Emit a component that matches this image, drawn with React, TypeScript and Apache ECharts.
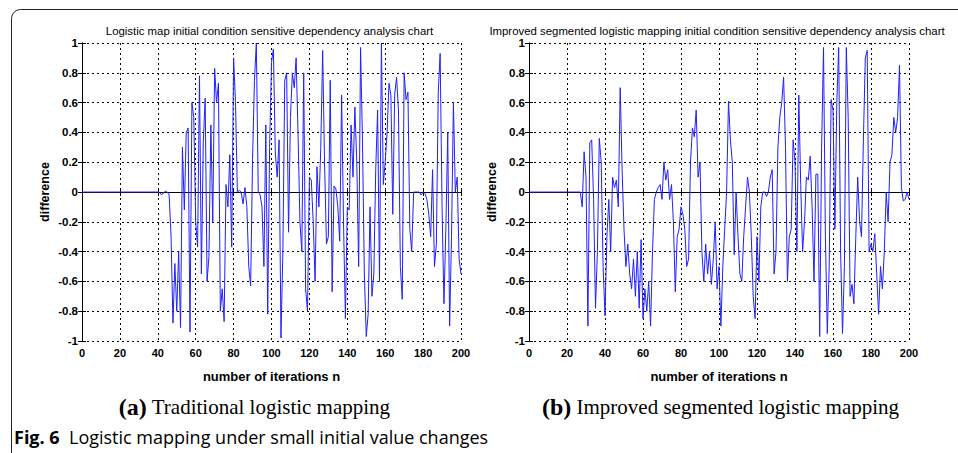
import React, { useEffect, useRef } from "react";
import * as echarts from "echarts";

// iteration index 0..200
const xTicks = [0, 20, 40, 60, 80, 100, 120, 140, 160, 180, 200];
const yTicks = [-1, -0.8, -0.6, -0.4, -0.2, 0, 0.2, 0.4, 0.6, 0.8, 1];

// (a) traditional logistic map: difference per iteration
const traditional = [
  0, 0, 0, 0, 0, 0, 0, 0, 0, 0,
  0, 0, 0, 0, 0, 0, 0, 0, 0, 0,
  0, 0, 0, 0, 0, 0, 0, 0, 0, 0,
  0, 0, 0, 0, 0, 0, 0, 0, 0, 0,
  0, -0.005, -0.02, -0.005, 0.005, 0, -0.02, -0.3, -0.88, -0.48,
  -0.8, -0.4, -0.91, 0.3, -0.12, 0.4, 0.43, -0.94, 0.6, 0.5,
  -0.2, -0.37, 0.78, -0.55, 0.33, 0.63, -0.6, -0.43, 0.45, -0.2,
  0.83, 0.6, 0.73, -0.8, -0.65, -0.87, 0.05, -0.1, 0.25, -0.37,
  0.9, 0.6, 0.0, 0.01, 0.0, -0.08, 0.03, -0.1, -0.5, -0.63,
  0.22, 0.75, 1.0, 0.0, -0.02, -0.1, -0.5, 0.45, -0.82, 0.3,
  0.87, 0.96, 0.27, 0.1, 0.35, -0.98, -0.4, 0.75, 0.8, -0.27,
  0.5, 0.8, 0.7, 0.9, 0.4, -0.2, -0.4, 0.8, -0.65, -0.8,
  0.1, 0.08, -0.2, -0.6, 0.17, -0.1, 0.3, 0.95, 0.2, -0.35,
  -0.3, 0.75, -0.67, 0.04, 0.02, -0.1, -0.33, 0.65, -0.2, -0.85,
  -0.1, -0.12, 0.45, 0.1, 0.57, 0.2, -0.5, 0.97, 0.35, -0.55,
  -0.97, -0.82, -0.1, -0.7, -0.55, 0.15, 0.55, -0.6, 1.0, 0.05,
  0.2, 0.4, 0.73, 0.65, -0.15, 0.65, 0.77, 0.55, -0.5, -0.72,
  0.8, 0.62, 0.67, -0.25, -0.4, 0.0, 0.0, 0.0, 0.0, -0.02,
  0.0, -0.01, -0.05, -0.15, -0.3, 0.15, -0.5, -0.35, 0.67, 0.93,
  -0.1, -0.75, -0.25, 0.4, -0.9, -0.3, 0.6, 0.0, 0.1, -0.45,
  -0.55,
];

// (b) improved segmented logistic map: difference per iteration
const improved = [
  0, 0, 0, 0, 0, 0, 0, 0, 0, 0,
  0, 0, 0, 0, 0, 0, 0, 0, 0, 0,
  0, 0, 0, 0, 0, 0, 0, 0, -0.1, 0.27,
  0.1, -0.9, 0.33, 0.35, -0.05, -0.78, -0.4, 0.36, 0.2, -0.5,
  -0.83, -0.3, -0.05, -0.4, 0.1, 0.03, 0.08, -0.1, 0.7, 0.15,
  -0.25, -0.5, -0.35, -0.55, -0.65, -0.45, -0.7, -0.4, -0.78, -0.32,
  -0.85, -0.65, -0.8, -0.6, -0.9, -0.4, -0.05, 0.0, 0.03, 0.05,
  -0.05, 0.2, 0.08, 0.15, -0.05, 0.05, -0.2, -0.67, -0.3, -0.25,
  -0.1, -0.15, -0.25, -0.5, -0.45, 0.2, 0.43, 0.37, 0.55, 0.1,
  0.2, -0.4, -0.6, -0.35, -0.55, -0.4, -0.62, -0.45, -0.2, -0.65,
  -0.5, -0.9, -0.5, -0.25, 0.0, 0.61, 0.35, 0.2, -0.42, 0.0,
  -0.3, -0.55, -0.6, -0.3, -0.1, 0.1, 0.0, -0.3, -0.7, -0.85,
  -0.3, -0.6, -0.1, 0.0, 0.0, -0.03, 0.0, 0.1, 0.15, -0.55,
  -0.4, 0.3, 0.5, 0.6, 0.77, 0.3, -0.6, -0.3, -0.25, 0.35,
  0.2, -0.4, 0.65, 0.05, -0.4, -0.2, 0.1, 0.08, 0.24, -0.1,
  -0.6, 0.12, 0.12, -0.97, 0.3, 0.97, -0.3, -0.95, -0.5, 0.62,
  0.55, -0.25, 0.6, 0.97, -0.4, -0.95, -0.5, 0.97, 0.5, -0.7,
  -0.62, -0.75, -0.3, 0.1, -0.2, -0.3, 0.35, 0.9, 0.95, -0.4,
  -0.35, -0.4, -0.28, -0.55, -0.82, -0.5, -0.65, -0.4, 0.0, -0.2,
  0.2, 0.25, 0.5, 0.4, 0.5, 0.85, 0.03, -0.06, -0.05, 0.0,
  -0.05,
];

const titles = [
  "Logistic map initial condition sensitive dependency analysis chart",
  "Improved segmented logistic mapping initial condition sensitive dependency analysis chart",
];
const xName = "number of iterations n";
const yName = "difference";
const captionLetters = ["(a)", "(b)"];
const captions = ["Traditional logistic mapping", "Improved segmented logistic mapping"];
const figLabel = "Fig. 6";
const figText = "Logistic mapping under small initial value changes";

const W = 958;
const H = 453;
const AX_FONT = "'Liberation Sans', Arial, sans-serif";
const SERIF = "'Liberation Serif', 'Times New Roman', serif";

export default function App() {
  const ref = useRef<HTMLDivElement>(null);

  useEffect(() => {
    if (!ref.current) return;
    const chart = echarts.init(ref.current, null, { renderer: "svg" });

    const grids = [
      { left: 82, right: W - 461, top: 43, bottom: H - 341 },
      { left: 529, right: W - 909, top: 43, bottom: H - 341 },
    ];

    const xAxes: any[] = [];
    const yAxes: any[] = [];
    grids.forEach((_, gi) => {
      xAxes.push({
        type: "value",
        gridIndex: gi,
        min: xTicks[0],
        max: xTicks[xTicks.length - 1],
        interval: 20,
        position: "bottom",
        name: xName,
        nameLocation: "middle",
        nameGap: 29,
        nameTextStyle: { fontFamily: AX_FONT, fontSize: 13, fontWeight: "bold", color: "#000" },
        axisLine: { show: true, lineStyle: { color: "#000", width: 1 } },
        axisTick: { show: true, inside: true, length: 4, lineStyle: { color: "#000" } },
        axisLabel: { fontFamily: AX_FONT, fontSize: 11, fontWeight: "bold", color: "#000", margin: 6 },
        splitLine: { show: true, lineStyle: { color: "#000", type: [2, 3], width: 1 } },
      });
      xAxes.push({
        type: "value",
        gridIndex: gi,
        min: xTicks[0],
        max: xTicks[xTicks.length - 1],
        interval: 20,
        position: "top",
        axisLine: { show: true, lineStyle: { color: "#000", width: 1 } },
        axisTick: { show: true, inside: true, length: 4, lineStyle: { color: "#000" } },
        axisLabel: { show: false },
        splitLine: { show: false },
      });
      yAxes.push({
        type: "value",
        gridIndex: gi,
        min: yTicks[0],
        max: yTicks[yTicks.length - 1],
        interval: 0.2,
        position: "left",
        name: yName,
        nameLocation: "middle",
        nameGap: 31,
        nameTextStyle: { fontFamily: AX_FONT, fontSize: 12.5, fontWeight: "bold", color: "#000" },
        axisLine: { show: true, lineStyle: { color: "#000", width: 1 } },
        axisTick: { show: true, inside: true, length: 4, lineStyle: { color: "#000" } },
        axisLabel: {
          fontFamily: AX_FONT,
          fontSize: 11.5,
          fontWeight: "bold",
          color: "#000",
          margin: 4,
          formatter: (v: number) => String(Math.round(v * 10) / 10),
        },
        splitLine: { show: true, lineStyle: { color: "#000", type: [2, 3], width: 1 } },
      });
      yAxes.push({
        type: "value",
        gridIndex: gi,
        min: yTicks[0],
        max: yTicks[yTicks.length - 1],
        interval: 0.2,
        position: "right",
        axisLine: { show: true, lineStyle: { color: "#000", width: 1 } },
        axisTick: { show: true, inside: true, length: 4, lineStyle: { color: "#000" } },
        axisLabel: { show: false },
        splitLine: { show: false },
      });
    });

    const toPairs = (arr: number[]) => arr.map((v, i) => [i, v]);

    const plotCenters = [(82 + 461) / 2 - 2, (529 + 909) / 2 - 2];

    const graphic: any[] = [
      {
        type: "rect",
        shape: { x: 11.5, y: 9.5, width: 1100, height: 600, r: 9 },
        style: { fill: "none", stroke: "#222", lineWidth: 1 },
        silent: true,
      },
      ...titles.map((t, i) => ({
        type: "text",
        x: plotCenters[i],
        y: 30.5,
        style: {
          text: t,
          fontFamily: AX_FONT,
          fontSize: 11.4,
          fill: "#000",
          align: "center",
          verticalAlign: "middle",
        },
      })),
      ...captions.map((c, i) => ({
        type: "text",
        x: i === 0 ? 254.5 : 720.5,
        y: 407,
        style: {
          text: `{b|${captionLetters[i]}} ${c}`,
          rich: {
            b: {
              fontFamily: SERIF,
              fontSize: 24,
              fontWeight: "bold",
              fill: "#000",
            },
          },
          fontFamily: SERIF,
          fontSize: 21,
          fill: "#000",
          align: "center",
          verticalAlign: "middle",
        },
      })),
      {
        type: "text",
        x: 14,
        y: 437,
        style: {
          text: `{b|${figLabel}}  ${figText}`,
          rich: {
            b: { fontFamily: "'Open Sans', sans-serif", fontSize: 18, fontWeight: "bold", fill: "#000" },
          },
          fontFamily: "'Open Sans', sans-serif",
          fontSize: 18,
          fill: "#000",
          align: "left",
          verticalAlign: "middle",
        },
      },
    ];

    chart.setOption({
      animation: false,
      backgroundColor: "#fff",
      grid: grids.map((g) => ({ ...g, show: false, containLabel: false })),
      xAxis: xAxes,
      yAxis: yAxes,
      series: [traditional, improved].map((arr, i) => ({
        type: "line",
        xAxisIndex: i * 2,
        yAxisIndex: i * 2,
        data: toPairs(arr),
        showSymbol: false,
        symbol: "none",
        lineStyle: { color: "#2020ff", width: 1 },
        z: 3,
      })),
      graphic,
    });

    return () => chart.dispose();
  }, []);

  return (
    <div
      ref={ref}
      style={{ position: "fixed", left: 0, top: 0, width: W, height: H, background: "#fff" }}
    />
  );
}
